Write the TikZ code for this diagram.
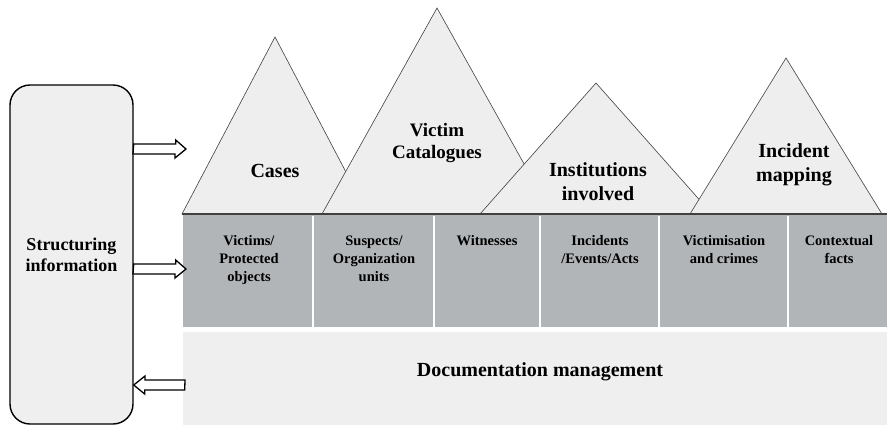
\documentclass[tikz,border=0pt]{standalone}
\usepackage{fontspec}
\setmainfont{Liberation Serif}
\usetikzlibrary{arrows.meta}
\definecolor{boxfill}{HTML}{EFEFEF}
\definecolor{trifill}{HTML}{EEEEEE}
\definecolor{band}{HTML}{B2B5B7}
\definecolor{edge}{HTML}{404040}
\begin{document}
\begin{tikzpicture}[x=1pt,y=-1pt,
  tri/.style={fill=trifill,draw=edge,line width=0.6pt,line join=miter},
  big/.style={font=\fontsize{20}{24}\selectfont\bfseries,align=center,text=black},
  mid/.style={font=\fontsize{19}{22}\selectfont\bfseries,align=center,text=black},
  col/.style={font=\fontsize{14.5}{18}\selectfont\bfseries,align=center,anchor=north,text=black},
  sep/.style={draw=white,line width=1.5pt},
  blk/.style={draw=black,fill=white,line width=1.3pt,line join=miter}]
\useasboundingbox (0,0) rectangle (887,426);
% left box
\node[draw=black,line width=1.4pt,fill=boxfill,rounded corners=20pt,minimum width=123pt,minimum height=339pt,inner sep=0pt,font=\fontsize{18}{21}\selectfont\bfseries,align=center] (si) at (71.5,254.5) {Structuring\\information};
% bands
\fill[band] (183,215) rectangle (887,327);
\fill[boxfill] (183,332) rectangle (887,425);
\draw[sep] (313,216) -- (313,327);
\draw[sep] (434,216) -- (434,327);
\draw[sep] (540,216) -- (540,327);
\draw[sep] (659,216) -- (659,327);
\draw[sep] (788,216) -- (788,327);
% triangles
\draw[tri] (182,214) -- (275,37) -- (368,214) -- cycle;
\draw[tri] (322,214) -- (437,8) -- (552,214) -- cycle;
\draw[tri] (480,214) -- (596,83) -- (712,214) -- cycle;
\draw[tri] (690,214) -- (786,58) -- (882,214) -- cycle;
\draw[edge,line width=1.2pt] (182,214) -- (887,214);
% triangle labels
\node[big] (cases) at (275,171) {Cases};
\node[mid] (vict) at (437,143) {Victim\\Catalogues};
\node[big] (inst) at (598,182) {Institutions\\involved};
\node[big] (inc) at (794,165) {Incident\\mapping};
% column labels
\node[col] (c1) at (249,232) {Victims/\\Protected\\objects};
\node[col] (c2) at (374,232) {Suspects/\\Organization\\units};
\node[col] (c3) at (487,232) {Witnesses};
\node[col] (c4) at (600,232) {Incidents\\/Events/Acts};
\node[col] (c5) at (724,232) {Victimisation\\and crimes};
\node[col] (c6) at (839,232) {Contextual\\facts};
\node[font=\fontsize{20}{24}\selectfont\bfseries,text=black] (doc) at (540,372) {Documentation management};
% block arrows
\coordinate (a1) at (186,149);
\coordinate (a2) at (186,269);
\coordinate (a3) at (134,385);
\coordinate (b3) at (185,385);
\draw[blk] (si.east |- a1) ++(0,-5) -- ++(42,0) -- ++(0,-4) -- (a1) -- ++(-11,9) -- ++(0,-4) -- ++(-42,0) -- cycle;
\draw[blk] (si.east |- a2) ++(0,-5) -- ++(42,0) -- ++(0,-4) -- (a2) -- ++(-11,9) -- ++(0,-4) -- ++(-42,0) -- cycle;
\draw[blk] (b3) ++(0,-5) -- ++(-40,0) -- ++(0,-4) -- (si.east |- a3) -- ++(11,9) -- ++(0,-4) -- ++(40,0) -- cycle;
\end{tikzpicture}
\end{document}
